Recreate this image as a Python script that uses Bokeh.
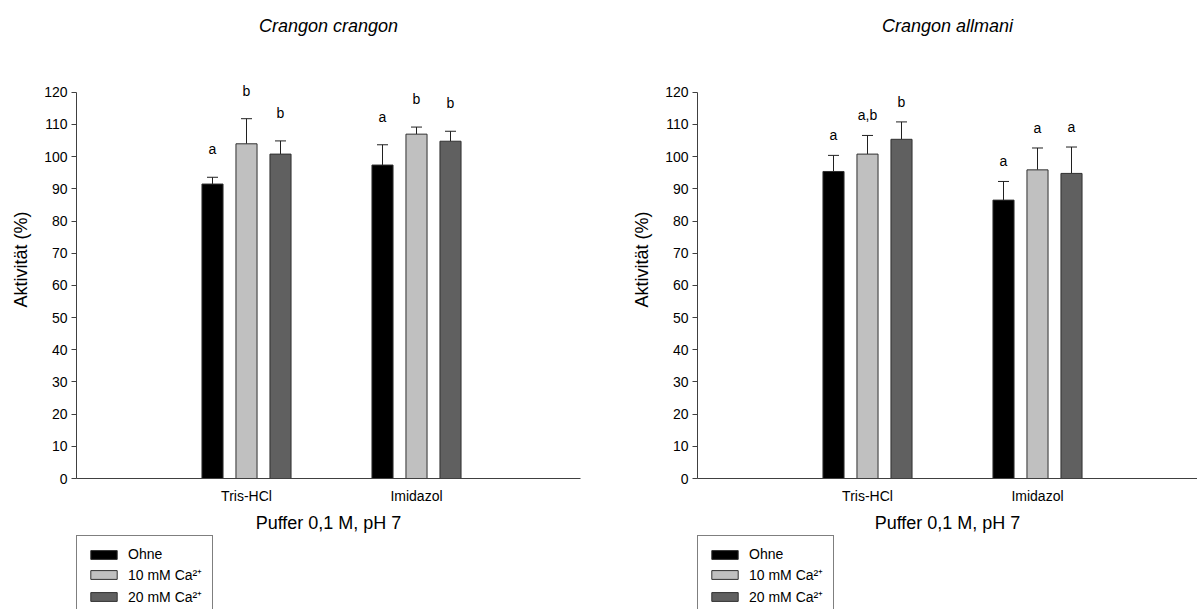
from bokeh.plotting import figure
from bokeh.models import (ColumnDataSource, Range1d, FixedTicker, Legend, LegendItem,
                          Whisker, TeeHead, Title)
from bokeh.transform import dodge
from bokeh.layouts import row, column
from bokeh.embed import file_html
from bokeh.resources import INLINE

# Buffers (x categories) and treatments (series)
buffers = ["Tris-HCl", "Imidazol"]
treatments = ["Ohne", "10 mM Ca²⁺", "20 mM Ca²⁺"]
colors = ["#000000", "#c0c0c0", "#606060"]

# Crangon crangon: mean activity (%) and upper SD per treatment, per buffer
cc_ohne = [91.5, 97.4]
cc_ohne_sd = [2.1, 6.3]
cc_10 = [104.0, 107.0]
cc_10_sd = [7.8, 2.2]
cc_20 = [100.8, 104.8]
cc_20_sd = [4.1, 3.1]
cc_letters = [["a", "a"], ["b", "b"], ["b", "b"]]

# Crangon allmani
ca_ohne = [95.4, 86.5]
ca_ohne_sd = [5.0, 5.8]
ca_10 = [100.8, 95.9]
ca_10_sd = [5.8, 6.8]
ca_20 = [105.4, 94.8]
ca_20_sd = [5.4, 8.2]
ca_letters = [["a", "a"], ["a,b", "a"], ["b", "a"]]

y_ticks = [0, 10, 20, 30, 40, 50, 60, 70, 80, 90, 100, 110, 120]

FONT = "Liberation Sans"
PX_PER_UNIT_X = 170.0
OFFSETS = [-0.2, 0.0, 0.2]
BAR_W = 0.124
MAIN_H = 535
LEG_H = 609 - MAIN_H


def panel(title, means, sds, letters, width, border_left, border_right, letter_gap):
    frame_w = width - border_left - border_right
    p = figure(width=width, height=MAIN_H, output_backend="svg", toolbar_location=None,
               x_range=Range1d(0, frame_w / PX_PER_UNIT_X), y_range=Range1d(0, 136.1),
               min_border_left=border_left, min_border_right=border_right,
               min_border_top=40, min_border_bottom=MAIN_H - 480)
    p.title = Title(text=title, align="center", text_font=FONT, text_font_size="18px",
                    text_font_style="italic", text_color="#000000")
    p.outline_line_color = None
    p.xgrid.visible = False
    p.ygrid.visible = False

    x = [1, 2]
    for i, (m, s, lab) in enumerate(zip(means, sds, letters)):
        src = ColumnDataSource(dict(x=x, top=m, up=[a + b for a, b in zip(m, s)], lab=lab))
        p.vbar(x=dodge("x", OFFSETS[i], range=p.x_range), top="top", width=BAR_W,
               bottom=0, source=src, fill_color=colors[i], line_color="#303030",
               line_width=1)
        w = Whisker(base=dodge("x", OFFSETS[i], range=p.x_range), lower="top", upper="up",
                    source=src, line_color="#202020", line_width=1,
                    lower_head=None, upper_head=TeeHead(size=11, line_color="#202020",
                                                       line_width=1))
        p.add_layout(w)
        p.text(x=dodge("x", OFFSETS[i], range=p.x_range), y="up", text="lab", source=src,
               text_align="center", text_baseline="bottom", y_offset=-letter_gap,
               text_font_size="14px", text_font={"value": FONT}, text_color="#000000")

    xa = p.xaxis[0]
    xa.ticker = FixedTicker(ticks=x)
    xa.major_label_overrides = {1: buffers[0], 2: buffers[1]}
    xa.major_tick_out = 0
    xa.major_tick_in = 0
    xa.minor_tick_out = 0
    xa.minor_tick_in = 0
    xa.axis_line_color = "#404040"
    xa.major_label_text_font = FONT
    xa.major_label_text_font_size = "14px"
    xa.major_label_text_color = "#000000"
    xa.major_label_standoff = 9
    xa.axis_label = "Puffer 0,1 M, pH 7"
    xa.axis_label_text_font = FONT
    xa.axis_label_text_font_size = "18px"
    xa.axis_label_text_font_style = "normal"
    xa.axis_label_text_color = "#000000"
    xa.axis_label_standoff = 6

    ya = p.yaxis[0]
    ya.ticker = FixedTicker(ticks=y_ticks)
    ya.bounds = (0, 120)
    ya.major_tick_out = 5
    ya.major_tick_in = 0
    ya.minor_tick_out = 0
    ya.minor_tick_in = 0
    ya.axis_line_color = "#404040"
    ya.major_tick_line_color = "#404040"
    ya.major_label_text_font = FONT
    ya.major_label_text_font_size = "14px"
    ya.major_label_text_color = "#000000"
    ya.major_label_standoff = 4
    ya.axis_label = "Aktivität (%)"
    ya.axis_label_text_font = FONT
    ya.axis_label_text_font_size = "18px"
    ya.axis_label_text_font_style = "normal"
    ya.axis_label_text_color = "#000000"
    ya.axis_label_standoff = 10

    # legend strip below the chart; its proxy bars lie wholly outside the strip's view
    lg = figure(width=width, height=LEG_H, output_backend="svg", toolbar_location=None,
                x_range=Range1d(20, 21), y_range=Range1d(200, 201),
                min_border_left=border_left, min_border_right=border_right,
                min_border_top=0, min_border_bottom=0)
    lg.axis.visible = False
    lg.xgrid.visible = False
    lg.ygrid.visible = False
    lg.outline_line_color = None
    items = []
    for i in range(3):
        r = lg.vbar(x=x, top=means[i], width=BAR_W, fill_color=colors[i],
                    line_color="#303030", line_width=1)
        items.append(LegendItem(label=treatments[i], renderers=[r]))
    leg = Legend(items=items, location="top_left", orientation="vertical",
                 border_line_color="#000000", border_line_width=1,
                 label_text_font=FONT, label_text_font_size="14px",
                 label_text_color="#000000",
                 glyph_width=33, glyph_height=11, label_height=14, label_width=71,
                 label_standoff=8, spacing=3, padding=10, margin=0,
                 background_fill_alpha=1.0)
    lg.add_layout(leg, "center")
    return column(p, lg, spacing=0)


c1 = panel("Crangon crangon", [cc_ohne, cc_10, cc_20], [cc_ohne_sd, cc_10_sd, cc_20_sd],
           cc_letters, 598, 76, 18, 20)
c2 = panel("Crangon allmani", [ca_ohne, ca_10, ca_20], [ca_ohne_sd, ca_10_sd, ca_20_sd],
           ca_letters, 599, 99, 0, 12)

layout = row(c1, c2, spacing=0)
open("out.html", "w").write(file_html(layout, INLINE))
